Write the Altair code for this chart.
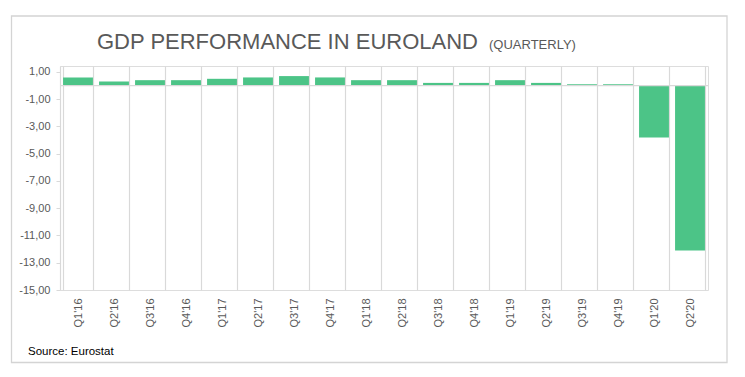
import altair as alt
import pandas as pd

quarters = ["Q1'16", "Q2'16", "Q3'16", "Q4'16", "Q1'17", "Q2'17", "Q3'17", "Q4'17",
            "Q1'18", "Q2'18", "Q3'18", "Q4'18", "Q1'19", "Q2'19", "Q3'19", "Q4'19",
            "Q1'20", "Q2'20"]
growth = [0.6, 0.3, 0.4, 0.4, 0.5, 0.6, 0.7, 0.6,
          0.4, 0.4, 0.2, 0.2, 0.4, 0.2, 0.1, 0.1,
          -3.8, -12.1]
y_ticks = [1, -1, -3, -5, -7, -9, -11, -13, -15]

title_main = "GDP PERFORMANCE IN EUROLAND"
title_sub = "(QUARTERLY)"
source = "Source: Eurostat"

df = pd.DataFrame({"quarter": quarters, "growth": growth})

GRID = "#d9d9d9"
LABEL = "#595959"
GREEN = "#4cc487"
FONT = "Liberation Sans"

x_enc = alt.X(
    "quarter:N", sort=quarters, title=None,
    scale=alt.Scale(paddingInner=0.17, paddingOuter=0.085),
    axis=alt.Axis(orient="bottom", grid=True, tickBand="extent", gridColor=GRID,
                  gridWidth=1.2, domain=False, ticks=False, labelAngle=-90,
                  labelPadding=8, labelColor=LABEL, labelFontSize=11, labelFont=FONT,
                  labelOverlap=False),
)
y_scale = alt.Scale(domain=[-15, 1.44], nice=False, zero=False)
y_enc = alt.Y(
    "growth:Q", title=None, scale=y_scale,
    axis=alt.Axis(values=y_ticks, grid=False, domainColor=GRID, domainWidth=1.2,
                  tickColor=GRID, tickSize=4, labelColor=LABEL, labelFontSize=11,
                  labelFont=FONT, labelPadding=6, labelOverlap=False, labelFlush=False,
                  labelExpr="(datum.value < 0 ? '-' : '') + replace(format(abs(datum.value), '.2f'), '.', ',')"),
)

bars = alt.Chart(df).mark_bar(color=GREEN).encode(x=x_enc, y=y_enc)

zero = alt.Chart(pd.DataFrame({"growth": [0]})).mark_rule(color=GRID, strokeWidth=1.3).encode(
    y=y_enc)

frame = alt.Chart(pd.DataFrame({"k": [0]})).mark_rect(
    fill="transparent", stroke="#d4d4d4", strokeWidth=1.3).encode(
    x=alt.value(-48.5), x2=alt.value(667), y=alt.value(-50), y2=alt.value(296.5))

t1 = alt.Chart(pd.DataFrame({"t": [title_main]})).mark_text(
    align="left", baseline="alphabetic", fontSize=22, font=FONT, color=LABEL).encode(
    x=alt.value(37), y=alt.value(-17), text="t:N")

t2 = alt.Chart(pd.DataFrame({"t": [title_sub]})).mark_text(
    align="left", baseline="alphabetic", fontSize=13, font=FONT, color=LABEL).encode(
    x=alt.value(429), y=alt.value(-17), text="t:N")

src = alt.Chart(pd.DataFrame({"t": [source]})).mark_text(
    align="left", baseline="middle", fontSize=11.5, font=FONT, color="#000000").encode(
    x=alt.value(-32), y=alt.value(286), text="t:N")

chart = alt.layer(frame, bars, zero, t1, t2, src).properties(
    width=648, height=224,
    autosize=alt.AutoSizeParams(type="none"),
    padding={"left": 60, "top": 66, "right": 37, "bottom": 87},
).configure_view(stroke=None).configure(background="white")

chart.save("out.html", embed_options={"renderer": "svg", "actions": False})
